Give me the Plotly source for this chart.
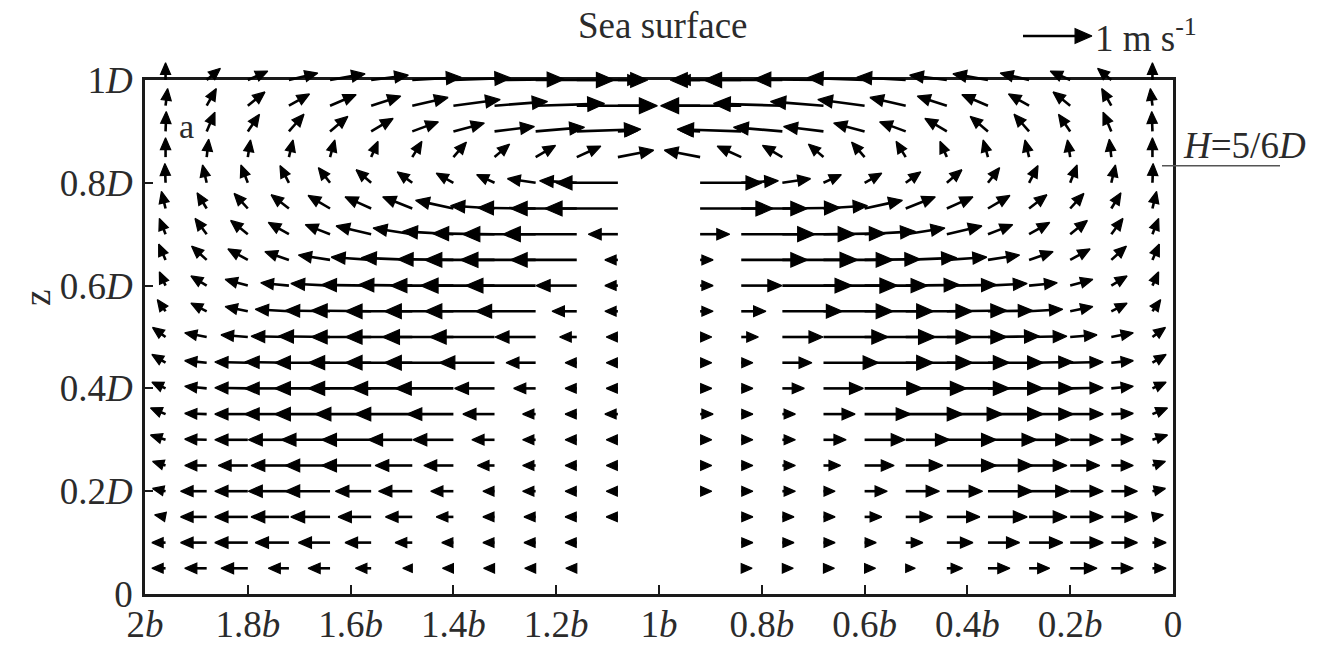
import math
import plotly.graph_objects as go

# ---------------- data ----------------
# horizontal offsets of grid columns from the centre line x = 1b (in units of b)
X_OFFSETS = [0.00, 0.08, 0.16, 0.24, 0.32, 0.40, 0.48, 0.56, 0.64, 0.72, 0.80, 0.88, 0.96]
CENTRE_X = 1.0
# depth levels (units of D), bottom -> top
Z_LEVELS = [0.05, 0.10, 0.15, 0.20, 0.25, 0.30, 0.35, 0.40, 0.45, 0.50,
            0.55, 0.60, 0.65, 0.70, 0.75, 0.80, 0.85, 0.90, 0.95, 1.00]

# velocity of the right half (x <= 1b), m/s; u > 0 points to the right (towards x = 0)
U_RIGHT = [
    [None, None, 0.16, 0.16, 0.16, 0.16, 0.14, 0.23, 0.32, 0.30, 0.39, 0.32, 0.20],
    [None, None, 0.17, 0.17, 0.17, 0.17, 0.25, 0.38, 0.46, 0.49, 0.48, 0.38, 0.20],
    [None, None, 0.17, 0.17, 0.17, 0.25, 0.39, 0.48, 0.57, 0.55, 0.48, 0.38, 0.16],
    [None, 0.17, 0.17, 0.19, 0.17, 0.33, 0.49, 0.52, 0.65, 0.59, 0.48, 0.38, 0.19],
    [None, 0.17, 0.17, 0.19, 0.25, 0.43, 0.54, 0.72, 0.65, 0.55, 0.43, 0.32, 0.19],
    [None, 0.17, 0.17, 0.19, 0.33, 0.59, 0.64, 0.72, 0.71, 0.59, 0.48, 0.32, 0.22],
    [None, 0.19, 0.17, 0.19, 0.46, 0.67, 0.83, 0.81, 0.80, 0.64, 0.48, 0.32, 0.22],
    [None, 0.17, 0.17, 0.32, 0.58, 0.84, 0.88, 0.91, 0.80, 0.64, 0.48, 0.32, 0.20],
    [None, 0.17, 0.17, 0.43, 0.80, 1.00, 0.97, 0.91, 0.80, 0.64, 0.48, 0.32, 0.20],
    [None, 0.17, 0.25, 0.59, 0.94, 1.03, 0.97, 0.87, 0.75, 0.55, 0.39, 0.32, 0.19],
    [None, 0.19, 0.36, 0.87, 1.01, 1.00, 0.97, 0.87, 0.65, 0.49, 0.33, 0.23, 0.12],
    [None, 0.19, 0.59, 1.01, 1.07, 0.91, 0.78, 0.72, 0.57, 0.41, 0.33, 0.23, 0.09],
    [None, 0.19, 0.96, 1.09, 1.01, 0.81, 0.74, 0.58, 0.46, 0.35, 0.29, 0.22, 0.10],
    [None, 0.43, 1.07, 1.06, 0.90, 0.74, 0.57, 0.51, 0.36, 0.30, 0.25, 0.17, 0.09],
    [None, 1.06, 0.96, 0.84, 0.64, 0.55, 0.43, 0.38, 0.32, 0.26, 0.20, 0.14, 0.06],
    [None, 0.90, 0.54, 0.41, 0.26, 0.25, 0.22, 0.22, 0.17, 0.13, 0.10, 0.06, 0.01],
    [None, -0.52, -0.35, -0.29, -0.22, -0.19, -0.14, -0.10, -0.07, -0.06, -0.04, -0.03, 0.00],
    [None, -0.29, -0.93, -0.71, -0.58, -0.45, -0.38, -0.32, -0.26, -0.22, -0.17, -0.12, -0.01],
    [None, -0.51, -1.17, -1.00, -0.77, -0.68, -0.52, -0.43, -0.38, -0.30, -0.25, -0.14, -0.03],
    [None, -0.32, -1.03, -1.14, -1.01, -0.83, -0.71, -0.54, -0.51, -0.42, -0.29, -0.20, 0.00],
]
W_RIGHT = [
    [None, None, 0, 0, 0, 0, 0, 0, 0, 0, 0, 0, 0],
    [None, None, 0, 0, 0, 0, 0, 0, 0, 0, 0, 0, 0],
    [None, None, 0, 0, 0, 0, 0, 0, 0, 0, 0, 0, 0.03],
    [None, 0, 0, 0, 0, 0, 0, 0, 0, 0, 0, 0, 0.04],
    [None, 0, 0, 0, 0, 0, 0, 0, 0, 0, 0, 0, 0.06],
    [None, 0, 0, 0, 0, 0, 0, 0, 0, 0, 0, 0.01, 0.07],
    [None, 0, 0, 0, 0, 0, 0, 0, 0, 0, 0, 0.01, 0.09],
    [None, 0, 0, 0, 0, 0, 0, 0, 0, 0, 0.01, 0.03, 0.09],
    [None, 0, 0, 0, 0, 0, 0, 0, 0, 0.01, 0.01, 0.03, 0.12],
    [None, 0, 0, 0, 0, 0, 0, 0, 0.01, 0.01, 0.03, 0.06, 0.14],
    [None, 0, 0, 0, 0, 0, 0, 0.01, 0.01, 0.03, 0.07, 0.12, 0.17],
    [None, 0, 0, 0, 0, 0, 0.01, 0.01, 0.03, 0.04, 0.09, 0.14, 0.20],
    [None, 0, 0, 0, 0, 0.01, 0.03, 0.04, 0.07, 0.12, 0.16, 0.20, 0.23],
    [None, 0, 0, 0, 0.01, 0.04, 0.09, 0.12, 0.14, 0.17, 0.20, 0.23, 0.23],
    [None, 0, 0, 0.01, 0.04, 0.12, 0.17, 0.17, 0.19, 0.20, 0.22, 0.23, 0.25],
    [None, 0, 0.03, 0.06, 0.12, 0.14, 0.16, 0.19, 0.22, 0.25, 0.26, 0.26, 0.28],
    [None, 0.10, 0.16, 0.17, 0.19, 0.22, 0.23, 0.23, 0.25, 0.25, 0.25, 0.26, 0.28],
    [None, 0.01, 0.03, 0.06, 0.07, 0.12, 0.14, 0.19, 0.22, 0.25, 0.25, 0.28, 0.29],
    [None, 0, 0, 0.03, 0.06, 0.09, 0.12, 0.14, 0.16, 0.17, 0.20, 0.25, 0.25],
    [None, 0, 0, 0, 0.01, 0.03, 0.04, 0.07, 0.09, 0.10, 0.13, 0.17, 0.25],
]
# one vector seen only on the left half
LEFT_ONLY_X = [1.08]
LEFT_ONLY_Z = [0.15]
LEFT_ONLY_U = [-0.17]
LEFT_ONLY_W = [0.0]

REF_SPEED = 1.0     # m/s, reference arrow
H_LEVEL = 5 / 6     # H = 5/6 D

X_TICKS = [2, 1.8, 1.6, 1.4, 1.2, 1.0, 0.8, 0.6, 0.4, 0.2, 0]
X_TICK_TEXT = ["2<i>b</i>", "1.8<i>b</i>", "1.6<i>b</i>", "1.4<i>b</i>", "1.2<i>b</i>",
               "1<i>b</i>", "0.8<i>b</i>", "0.6<i>b</i>", "0.4<i>b</i>", "0.2<i>b</i>", "0"]
Y_TICKS = [0, 0.2, 0.4, 0.6, 0.8, 1.0]
Y_TICK_TEXT = ["0", "0.2<i>D</i>", "0.4<i>D</i>", "0.6<i>D</i>", "0.8<i>D</i>", "1<i>D</i>"]

# ---------------- geometry / style ----------------
# page body margin (8 px) offsets the figure; all positions below are page pixels
SHIFT = 8
FIG_W, FIG_H = 1317 - 2 * SHIFT, 646 - 2 * SHIFT
FRAME_L, FRAME_R, FRAME_T, FRAME_B = 145 - SHIFT, 1173 - SHIFT, 80 - SHIFT, 594 - SHIFT
PX = (FRAME_R - FRAME_L) / 2.0          # px per b (== px per D)
PX_PER_MS = 69.0                         # arrow length of 1 m/s in px
FONT = "Liberation Serif"
TXT = "#2b2b2b"


def to_data(sx, sy):
    return 2 - sx / PX, sy / PX


shaft_x, shaft_y, head_x, head_y = [], [], [], []


def add_arrow(x0, z0, u, w):
    """x0,z0 tail in data units; u (screen-right) and w (up) in m/s"""
    if u is None or w is None:
        return
    vx, vy = u * PX_PER_MS, w * PX_PER_MS
    L = math.hypot(vx, vy)
    if L < 0.5:
        return
    ex, ey = vx / L, vy / L
    tx, ty = (2 - x0) * PX, z0 * PX
    px_, py_ = tx + vx, ty + vy
    h = min(L, 10 + 0.1 * L)
    hw = 0.43 * h
    bx, by = px_ - ex * h, py_ - ey * h
    nx, ny = -ey, ex
    if L > h + 0.5:
        a = to_data(tx, ty)
        b = to_data(bx + ex * 1.5, by + ey * 1.5)
        shaft_x.extend([a[0], b[0], None])
        shaft_y.extend([a[1], b[1], None])
    p1 = to_data(px_, py_)
    p2 = to_data(bx + nx * hw, by + ny * hw)
    p3 = to_data(bx - nx * hw, by - ny * hw)
    head_x.extend([p1[0], p2[0], p3[0], p1[0], None])
    head_y.extend([p1[1], p2[1], p3[1], p1[1], None])


for j, z in enumerate(Z_LEVELS):
    for k, off in enumerate(X_OFFSETS):
        u = U_RIGHT[j][k]
        w = W_RIGHT[j][k]
        if u is None:
            continue
        add_arrow(CENTRE_X - off, z, u, w)          # right half
        if off > 0:
            add_arrow(CENTRE_X + off, z, -u, w)     # mirrored left half

for xx, zz, uu, ww in zip(LEFT_ONLY_X, LEFT_ONLY_Z, LEFT_ONLY_U, LEFT_ONLY_W):
    add_arrow(xx, zz, uu, ww)

# reference arrow (placed above the frame, top right)
ref_x0 = 2 - (1023 - SHIFT - FRAME_L) / PX
ref_z0 = (FRAME_B - (36 - SHIFT)) / PX
add_arrow(ref_x0, ref_z0, REF_SPEED, 0.0)

fig = go.Figure()
# dummy trace to materialise the framed axes
fig.add_trace(go.Scatter(x=[None], y=[None], xaxis="x", yaxis="y", showlegend=False,
                         hoverinfo="skip"))
fig.add_trace(go.Scatter(x=shaft_x, y=shaft_y, mode="lines", xaxis="x2", yaxis="y2",
                         line=dict(color="black", width=2.6), showlegend=False,
                         hoverinfo="skip"))
fig.add_trace(go.Scatter(x=head_x, y=head_y, mode="lines", fill="toself",
                         fillcolor="black", xaxis="x2", yaxis="y2",
                         line=dict(color="black", width=1.2), showlegend=False,
                         hoverinfo="skip"))

x2_range = [2 + FRAME_L / PX, 2 - (FIG_W - FRAME_L) / PX]
y2_range = [-(FIG_H - FRAME_B) / PX, FRAME_B / PX]

axis_common = dict(showgrid=False, zeroline=False, showline=True, linewidth=2.5,
                   linecolor="#1a1a1a", mirror=True, ticks="inside", tickwidth=2,
                   tickcolor="#1a1a1a", automargin=False,
                   tickfont=dict(family=FONT, size=37, color=TXT))

fig.update_layout(
    template="none",
    width=FIG_W, height=FIG_H,
    margin=dict(l=0, r=0, t=0, b=0, autoexpand=False),
    paper_bgcolor="white", plot_bgcolor="rgba(0,0,0,0)",
    showlegend=False,
    xaxis=dict(domain=[FRAME_L / FIG_W, FRAME_R / FIG_W], range=[2, 0], anchor="y",
               tickmode="array", tickvals=X_TICKS, ticktext=X_TICK_TEXT, ticklen=9,
               ticklabelstandoff=-4, **axis_common),
    yaxis=dict(domain=[(FIG_H - FRAME_B) / FIG_H, (FIG_H - FRAME_T) / FIG_H], range=[0, 1],
               anchor="x", tickmode="array", tickvals=Y_TICKS, ticktext=Y_TICK_TEXT,
               ticklen=8, ticklabelstandoff=2, **axis_common),
    xaxis2=dict(domain=[0, 1], range=x2_range, visible=False, anchor="y2",
                automargin=False),
    yaxis2=dict(domain=[0, 1], range=y2_range, visible=False, anchor="x2",
                automargin=False),
)

# H = 5/6 D marker line
fig.add_shape(type="line", xref="x2", yref="y2",
              x0=2 - (1162 - SHIFT - FRAME_L) / PX, x1=2 - (1280 - SHIFT - FRAME_L) / PX,
              y0=H_LEVEL, y1=H_LEVEL, line=dict(color="#555555", width=1.5))


def ann(text, px, py, size=37, xanchor="center", angle=0):
    fig.add_annotation(text=text, x=(px - SHIFT) / FIG_W, y=1 - (py - SHIFT) / FIG_H,
                       xref="paper", yref="paper", showarrow=False, xanchor=xanchor,
                       yanchor="middle", textangle=angle,
                       font=dict(family=FONT, size=size, color=TXT))


ann("Sea surface", 662, 25)
ann("a", 186, 126, size=34)
ann("<i>H</i>=5/6<i>D</i>", 1244, 145)
ann("1 m s<sup>-1</sup>", 1093, 36, xanchor="left")
ann("z", 38, 298, angle=-90)

fig.write_html("out.html")
